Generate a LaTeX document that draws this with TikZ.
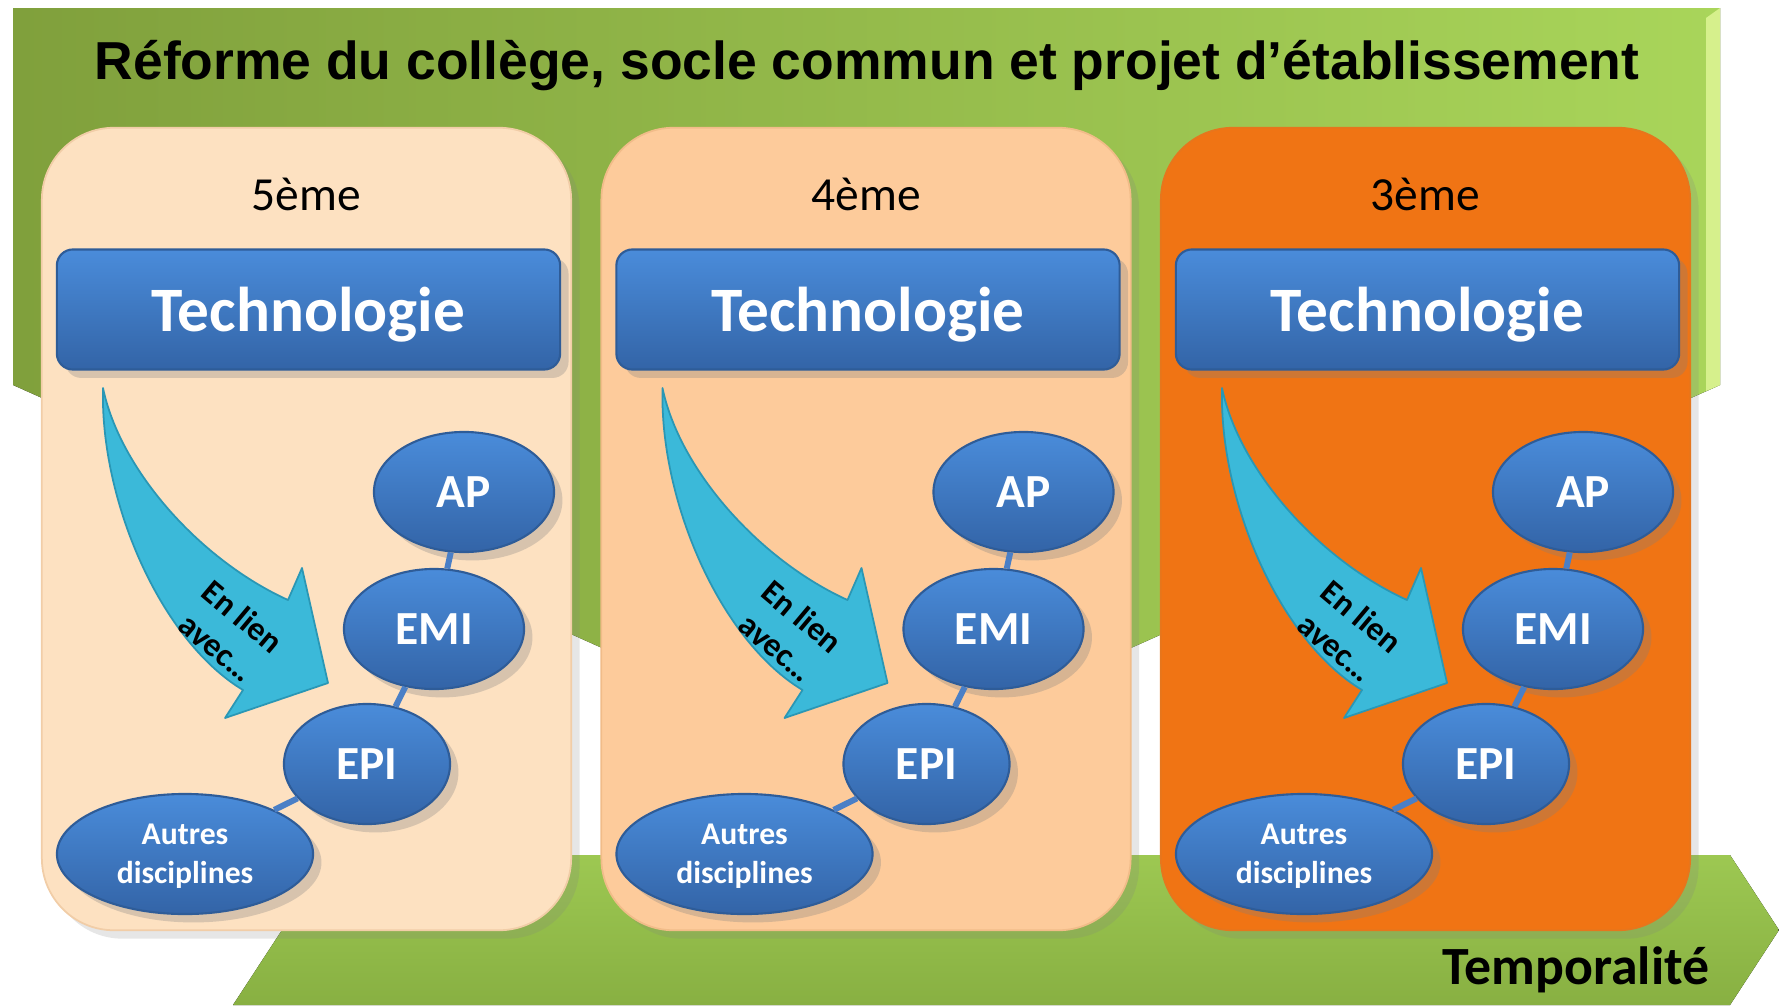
\documentclass[tikz,border=0pt]{standalone}
\usepackage{fontspec}
\setmainfont{Carlito}
\newfontfamily\arialfont{Liberation Sans}
\usetikzlibrary{shapes.geometric,shadows}
\definecolor{vertfonce}{HTML}{80A03C}
\definecolor{vertclair}{HTML}{A9D55A}
\definecolor{biseau}{HTML}{D6F08C}
\definecolor{vertbas}{HTML}{88B042}
\definecolor{vertbashaut}{HTML}{9DC852}
\definecolor{peche1}{HTML}{FDE1C1}
\definecolor{peche2}{HTML}{FDCB9B}
\definecolor{orange3}{HTML}{F07414}
\definecolor{bleuhaut}{HTML}{4A8CDA}
\definecolor{bleubas}{HTML}{3364A7}
\definecolor{bleubord}{HTML}{2E5C98}
\definecolor{cyanfl}{HTML}{3BB9D9}
\definecolor{cyanbord}{HTML}{2A97B5}
\definecolor{bleulien}{HTML}{4A7FC6}
\tikzstyle{panneau}=[rectangle,rounded corners=0.72cm,minimum width=5.29cm,minimum height=8.02cm,inner sep=0pt,line width=0.5pt,drop shadow={opacity=0.2}]
\tikzstyle{annee}=[anchor=base,font=\fontsize{13.5}{16}\selectfont]
\tikzstyle{techno}=[rectangle,rounded corners=0.16cm,minimum width=5.03cm,minimum height=1.2cm,inner sep=0pt,text depth=0pt,top color=bleuhaut,bottom color=bleubas,draw=bleubord,line width=0.6pt,text=white,font=\bfseries\fontsize{18}{20}\selectfont,drop shadow={opacity=0.3}]
\tikzstyle{bulle}=[ellipse,inner sep=0pt,minimum height=1.2cm,top color=bleuhaut,bottom color=bleubas,draw=bleubord,line width=0.6pt,text=white,font=\bfseries\fontsize{13.5}{16}\selectfont,drop shadow={opacity=0.3}]
\tikzstyle{petit}=[align=center,text depth=0pt,font=\bfseries\fontsize{9}{11}\selectfont]
\tikzstyle{lien}=[draw=bleulien,line width=1.7pt]
\tikzstyle{fleche}=[fill=cyanfl,draw=cyanbord,line width=0.5pt,line join=round]
\tikzstyle{avec}=[rotate=-40,align=center,font=\bfseries\fontsize{9.5}{11.5}\selectfont]

\begin{document}
\begin{tikzpicture}[x=0.01cm,y=-0.01cm]
\useasboundingbox (0,0) rectangle (1779,1006);
\fill[left color=vertfonce,right color=vertclair] (13,8) -- (1720,8) -- (1720,385) -- (866.5,766) -- (13,385) -- cycle;
\fill[biseau] (1706,18) -- (1720,8) -- (1720,385) -- (1706,391) -- cycle;
\fill[top color=vertbashaut,bottom color=vertbas] (233,855) -- (1730,855) -- (1779,930) -- (1730,1005) -- (233,1005) -- (282,930) -- cycle;
\node[anchor=base,inner sep=0pt,font=\arialfont\bfseries\fontsize{15.2}{18}\selectfont] (titre) at (867,79.5) {Réforme du collège, socle commun et projet d’établissement};
\node[anchor=base east,inner sep=0pt,font=\bfseries\fontsize{15.3}{18}\selectfont] (tempo) at (1710,984) {Temporalité};

\node[panneau,fill=peche1,draw=peche1!80!brown] (P) at (306.5,529) {};
\node[panneau,fill=peche2,draw=peche2!80!brown] (P') at (866,529) {};
\node[panneau,fill=orange3,draw=orange3!80!brown] (P'') at (1425.5,529) {};

\node[annee] (A) at (306.5,210) {5ème};
\node[annee] (A') at (866,210) {4ème};
\node[annee] (A'') at (1425.5,210) {3ème};

\node[techno] (T) at (308.5,309.5) {Technologie};
\node[techno] (T') at (868,309.5) {Technologie};
\node[techno] (T'') at (1427.5,309.5) {Technologie};

\filldraw[fleche] (103,388) .. controls (120,470) and (200,560) .. (288,600) -- (302,568) -- (328,683) -- (225,718) -- (243,690) .. controls (160,640) and (100,500) .. (103,388) -- cycle;
\filldraw[fleche,shift={(559.5,0)}] (103,388) .. controls (120,470) and (200,560) .. (288,600) -- (302,568) -- (328,683) -- (225,718) -- (243,690) .. controls (160,640) and (100,500) .. (103,388) -- cycle;
\filldraw[fleche,shift={(1119,0)}] (103,388) .. controls (120,470) and (200,560) .. (288,600) -- (302,568) -- (328,683) -- (225,718) -- (243,690) .. controls (160,640) and (100,500) .. (103,388) -- cycle;
\node[avec] (L) at (230,632) {En lien\\avec…};
\node[avec] (L') at (789.5,632) {En lien\\avec…};
\node[avec] (L'') at (1349,632) {En lien\\avec…};

\node[bulle,minimum width=1.8cm] (AP) at (464,492) {AP};
\node[bulle,minimum width=1.8cm] (EMI) at (434,629) {EMI};
\node[bulle,minimum width=1.66cm] (EPI) at (367,764) {EPI};
\node[bulle,petit,minimum width=2.56cm] (AD) at (185,854) {Autres\\disciplines};
\node[bulle,minimum width=1.8cm] (AP') at (1023.5,492) {AP};
\node[bulle,minimum width=1.8cm] (EMI') at (993.5,629) {EMI};
\node[bulle,minimum width=1.66cm] (EPI') at (926.5,764) {EPI};
\node[bulle,petit,minimum width=2.56cm] (AD') at (744.5,854) {Autres\\disciplines};
\node[bulle,minimum width=1.8cm] (AP'') at (1583,492) {AP};
\node[bulle,minimum width=1.8cm] (EMI'') at (1553,629) {EMI};
\node[bulle,minimum width=1.66cm] (EPI'') at (1486,764) {EPI};
\node[bulle,petit,minimum width=2.56cm] (AD'') at (1304,854) {Autres\\disciplines};

\path[lien]
(AP) edge (EMI)
(EMI) edge (EPI)
(EPI) edge (AD)
(AP') edge (EMI')
(EMI') edge (EPI')
(EPI') edge (AD')
(AP'') edge (EMI'')
(EMI'') edge (EPI'')
(EPI'') edge (AD'');
\end{tikzpicture}
\end{document}
